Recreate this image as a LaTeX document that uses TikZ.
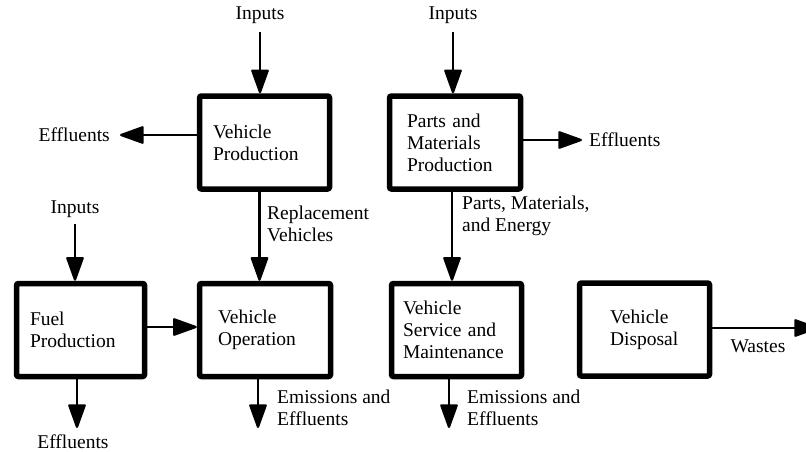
\documentclass[tikz,border=0pt]{standalone}
\usepackage{fontspec}
\setmainfont{Liberation Serif}
\usetikzlibrary{arrows.meta}
\begin{document}
\begin{tikzpicture}[x=1pt,y=-1pt,
 lbl/.style={font=\fontsize{19.5}{21.5}\selectfont, inner sep=0pt, align=left},
 box/.style={draw, line width=5.5pt, rounded corners=2pt, minimum width=130pt, minimum height=93pt,
   align=left, font=\fontsize{19.5}{22}\selectfont, inner ysep=0pt},
 arr/.style={line width=2.2pt, -{Triangle[width=18pt,length=26pt,round]}}]
\useasboundingbox (0,0) rectangle (806,452);

% boxes
\node[box, inner xsep=13.5pt, text width=103pt] (vp) at (264.5,142.5) {Vehicle\\Production};
\node[box, minimum width=131pt, inner xsep=17.5pt, text width=96pt] (pmp) at (455,142.5) {Parts and\\Materials\\Production};
\node[box, minimum width=128pt, inner xsep=13.5pt, text width=101pt] (fp) at (80.5,330) {Fuel\\Production};
\node[box, minimum width=131pt, inner xsep=18.5pt, text width=94pt] (vo) at (265,330) {Vehicle\\Operation};
\node[box, inner xsep=11.5pt, text width=107pt] (vsm) at (456.5,330) {Vehicle\\Service and\\Maintenance};
\node[box, inner xsep=30.5pt, text width=69pt] (vd) at (644.5,329.5) {Vehicle\\Disposal};

% labels
\node[lbl] (in1) at (260,15) {Inputs};
\node[lbl] (in2) at (453,15) {Inputs};
\node[lbl] (in3) at (75,209) {Inputs};
\node[lbl, anchor=east] (ef1) at (110,135) {Effluents};
\node[lbl, anchor=west] (ef2) at (589,140) {Effluents};
\node[lbl] (ef3) at (73,442) {Effluents};
\node[lbl, anchor=west] (rv) at (267,224) {Replacement\\Vehicles};
\node[lbl, anchor=west] (pme) at (462,216) {Parts, Materials,\\and Energy};
\node[lbl, anchor=west] (ee1) at (277,408) {Emissions and\\Effluents};
\node[lbl, anchor=west] (ee2) at (467,408) {Emissions and\\Effluents};
\node[lbl] (ws) at (758,346) {Wastes};

% free arrow ends
\coordinate (t1) at (77,428);
\coordinate (t2) at (258,428);
\coordinate (t3) at (449,428);
\coordinate (t4) at (818,328);

% connectors
\draw[arr] ([yshift=-8pt]in1.south) -- (in1.south |- vp.north);
\draw[arr] ([yshift=-8pt]in2.south) -- (in2.south |- pmp.north);
\draw[arr] ([yshift=-6pt]in3.south) -- (in3.south |- fp.north);
\draw[arr] (vp.west |- ef1.east) -- ([xshift=10pt]ef1.east);
\draw[arr] (pmp.east |- ef2.west) -- ([xshift=-7pt]ef2.west);
\draw[arr] (t1 |- fp.south) -- (t1);
\draw[arr] ([yshift=3pt]fp.east) -- ([yshift=3pt]vo.west);
\draw[arr] ([xshift=-5pt]vp.south) -- ([xshift=-5pt]vp.south |- vo.north);
\draw[arr] ([xshift=-3pt]pmp.south) -- ([xshift=-3pt]pmp.south |- vsm.north);
\draw[arr] (t2 |- vo.south) -- (t2);
\draw[arr] (t3 |- vsm.south) -- (t3);
\draw[arr] (vd.east |- t4) -- (t4);
\end{tikzpicture}
\end{document}
